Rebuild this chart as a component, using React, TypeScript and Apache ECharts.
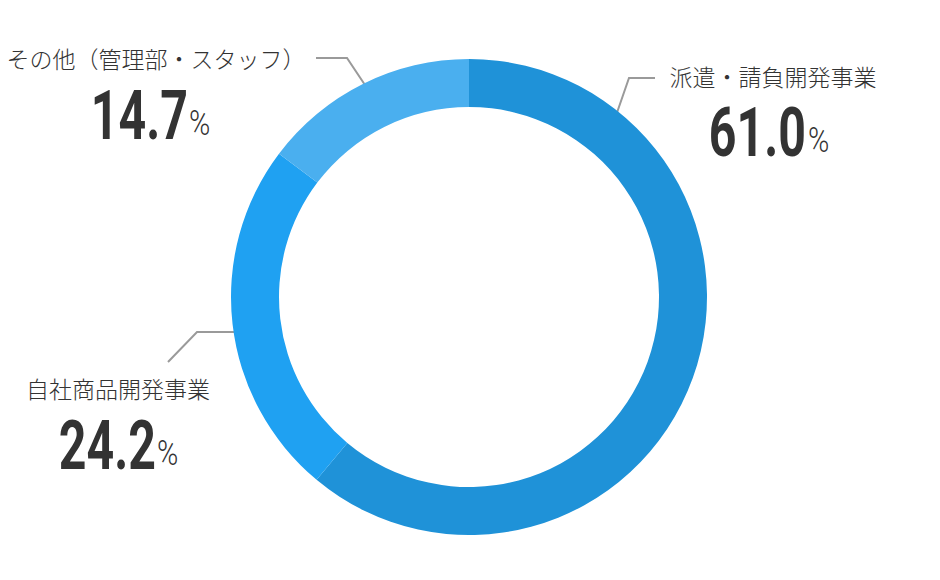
import React, { useEffect, useRef } from "react";
import * as echarts from "echarts";

const categories = ["派遣・請負開発事業", "自社商品開発事業", "その他（管理部・スタッフ）"];
const shares = [61.0, 24.2, 14.7];
const colors = ["#1F92D8", "#1FA1F2", "#4AAFEF"];

// Label placement (layout only)
const labelLayout = [
  { nameX: 773, nameY: 76, numRight: 806, numY: 133, pctX: 808, line: [[611, 130], [629, 78], [655, 78]] },
  { nameX: 118, nameY: 388, numRight: 156, numY: 446, pctX: 157, line: [[270, 332], [197, 332], [168, 362]] },
  { nameX: 156, nameY: 58, numRight: 188, numY: 116, pctX: 189, line: [[373, 97], [347, 58], [316, 58]] },
];

export default function App() {
  const ref = useRef<HTMLDivElement>(null);
  useEffect(() => {
    document.body.style.margin = "0";
    const chart = echarts.init(ref.current!, null, { renderer: "svg" });
    const graphics: any[] = [];
    categories.forEach((name, i) => {
      const L = labelLayout[i];
      graphics.push({
        type: "polyline",
        silent: true,
        shape: { points: L.line },
        style: { stroke: "#9a9a9a", lineWidth: 2, fill: null },
      });
      graphics.push({
        type: "text",
        x: L.nameX,
        y: L.nameY,
        style: {
          text: name,
          fontFamily: "'Noto Sans CJK JP', sans-serif",
          fontSize: 23,
          fontWeight: 300,
          fill: "#333333",
          textAlign: "center",
          textVerticalAlign: "middle",
        },
      });
      graphics.push({
        type: "text",
        x: L.numRight,
        y: L.numY,
        scaleX: 0.7,
        style: {
          text: shares[i].toFixed(1),
          fontFamily: "Roboto, sans-serif",
          fontWeight: "bold",
          fontSize: 69,
          fill: "#333333",
          textAlign: "right",
          textVerticalAlign: "middle",
        },
      });
      graphics.push({
        type: "text",
        x: L.pctX,
        y: L.numY + 7,
        scaleX: 0.8,
        style: {
          text: "%",
          fontFamily: "Roboto, sans-serif",
          fontWeight: 300,
          fontSize: 36,
          fill: "#333333",
          textAlign: "left",
          textVerticalAlign: "middle",
        },
      });
    });
    chart.setOption({
      animation: false,
      backgroundColor: "#ffffff",
      series: [
        {
          type: "pie",
          center: [469, 297],
          radius: [190, 238],
          startAngle: 90,
          clockwise: true,
          silent: true,
          label: { show: false },
          labelLine: { show: false },
          itemStyle: { borderWidth: 0 },
          data: categories.map((n, i) => ({ name: n, value: shares[i], itemStyle: { color: colors[i] } })),
        },
      ],
      graphic: graphics,
    });
    return () => chart.dispose();
  }, []);
  return <div ref={ref} style={{ width: 940, height: 580 }} />;
}
